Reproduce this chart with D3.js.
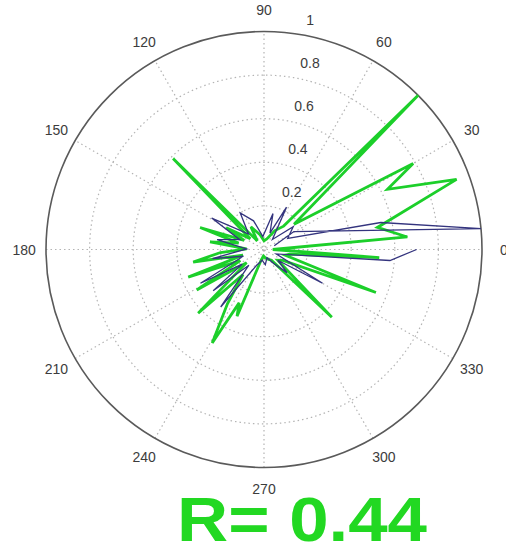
<!DOCTYPE html>
<html>
<head>
<meta charset="utf-8">
<script src="https://cdn.jsdelivr.net/npm/d3@7"></script>
<style>
  html, body { margin: 0; padding: 0; background: #fff; }
  svg { display: block; }
</style>
</head>
<body>
<svg id="chart" width="506" height="549"></svg>
<script>
// Angular positions (degrees, counter-clockwise from east) and magnitudes, in drawing order
const greenAngles = [0, 5, 11, 20, 26, 30, 40, 45, 50, 60, 75, 90, 105, 120, 128, 135, 142, 150, 155, 161, 166, 172, 178, 184, 190, 195, 200, 205, 211, 217, 224, 230, 236, 241, 245, 248, 255, 265, 280, 295, 305, 315, 322, 330, 339, 345, 350, 356, 360];
const greenValues = [0.04, 0.66, 0.53, 0.94, 0.63, 0.79, 0.18, 1.0, 0.14, 0.1, 0.05, 0.04, 0.07, 0.12, 0.05, 0.59, 0.08, 0.2, 0.1, 0.31, 0.12, 0.25, 0.08, 0.2, 0.33, 0.1, 0.37, 0.12, 0.36, 0.1, 0.42, 0.15, 0.3, 0.49, 0.27, 0.33, 0.05, 0.03, 0.04, 0.05, 0.06, 0.44, 0.08, 0.1, 0.55, 0.1, 0.12, 0.53, 0.04];

const blueAngles = [20, 31, 5.5, 13, 25, 38, 50, 62, 70, 76, 95, 110, 123, 135, 149, 158, 168, 178, 190, 198, 208, 214, 219, 226, 233, 245, 260, 275, 290, 305, 315, 322, 330, 340, 355, 360];
const blueValues = [0.05, 0.16, 1.0, 0.55, 0.12, 0.17, 0.06, 0.22, 0.08, 0.17, 0.06, 0.14, 0.2, 0.1, 0.28, 0.12, 0.22, 0.08, 0.24, 0.1, 0.33, 0.12, 0.3, 0.1, 0.33, 0.08, 0.05, 0.07, 0.04, 0.08, 0.15, 0.08, 0.31, 0.06, 0.58, 0.7];

const ringTicks = [0.2, 0.4, 0.6, 0.8, 1];
const ringLabels = ["0.2", "0.4", "0.6", "0.8", "1"];
const spokeAngles = [0, 30, 60, 90, 120, 150, 180, 210, 240, 270, 300, 330];
const spokeLabels = ["0", "30", "60", "90", "120", "150", "180", "210", "240", "270", "300", "330"];
const statLabel = "R= 0.44";

const svg = d3.select("#chart");
const cx = 264, cy = 249.5, R = 218;
const rScale = d3.scaleLinear().domain([0, 1]).range([0, R]);
const toRad = d => d * Math.PI / 180;

const g = svg.append("g").attr("transform", `translate(${cx},${cy})`);

// dotted rings
g.selectAll("circle.ring")
  .data(ringTicks.slice(0, -1))
  .join("circle")
  .attr("class", "ring")
  .attr("r", d => rScale(d))
  .attr("fill", "none")
  .attr("stroke", "#b4b4b4")
  .attr("stroke-width", 1.2)
  .attr("stroke-dasharray", "1.5,3");

// dotted spokes through the centre
g.selectAll("line.spoke")
  .data(spokeAngles.slice(0, 6))
  .join("line")
  .attr("class", "spoke")
  .attr("x1", d => -rScale(1) * Math.cos(toRad(d)))
  .attr("y1", d => rScale(1) * Math.sin(toRad(d)))
  .attr("x2", d => rScale(1) * Math.cos(toRad(d)))
  .attr("y2", d => -rScale(1) * Math.sin(toRad(d)))
  .attr("stroke", "#b4b4b4")
  .attr("stroke-width", 1.2)
  .attr("stroke-dasharray", "1.5,3");

// outer boundary
g.append("circle")
  .attr("r", rScale(1))
  .attr("fill", "none")
  .attr("stroke", "#5a5a5a")
  .attr("stroke-width", 1.6);

// angle labels
g.selectAll("text.ang")
  .data(spokeAngles)
  .join("text")
  .attr("class", "ang")
  .attr("x", d => 1.1 * rScale(1) * Math.cos(toRad(d)))
  .attr("y", d => -1.1 * rScale(1) * Math.sin(toRad(d)))
  .attr("text-anchor", "middle")
  .attr("dominant-baseline", "central")
  .attr("font-family", "Liberation Sans, Arial, sans-serif")
  .attr("font-size", 14)
  .attr("fill", "#3c3c3c")
  .text((d, i) => spokeLabels[i]);

// radial tick labels
const a82 = toRad(82);
g.selectAll("text.rho")
  .data(ringTicks)
  .join("text")
  .attr("class", "rho")
  .attr("x", d => rScale(d) * Math.cos(a82) + 12)
  .attr("y", d => -rScale(d) * Math.sin(a82) - 14)
  .attr("text-anchor", "start")
  .attr("dominant-baseline", "central")
  .attr("font-family", "Liberation Sans, Arial, sans-serif")
  .attr("font-size", 14)
  .attr("fill", "#3c3c3c")
  .text((d, i) => ringLabels[i]);

// radial lines
const radial = d3.lineRadial()
  .angle(d => Math.PI / 2 - toRad(d[0]))
  .radius(d => rScale(d[1]))
  .curve(d3.curveLinear);

const greenPts = greenAngles.map((a, i) => [a, greenValues[i]]);
const bluePts = blueAngles.map((a, i) => [a, blueValues[i]]);

g.append("path")
  .attr("d", radial(greenPts))
  .attr("fill", "none")
  .attr("stroke", "#1ccf2a")
  .attr("stroke-width", 2.8)
  .attr("stroke-linejoin", "miter");

g.append("path")
  .attr("d", radial(bluePts))
  .attr("fill", "none")
  .attr("stroke", "#34347e")
  .attr("stroke-width", 1.3);

// correlation annotation
svg.append("text")
  .attr("x", 177)
  .attr("y", 541)
  .attr("font-family", "Liberation Sans, Arial, sans-serif")
  .attr("font-weight", "bold")
  .attr("font-size", 63)
  .attr("textLength", 250)
  .attr("lengthAdjust", "spacingAndGlyphs")
  .attr("fill", "#22d822")
  .text(statLabel);
</script>
</body>
</html>
